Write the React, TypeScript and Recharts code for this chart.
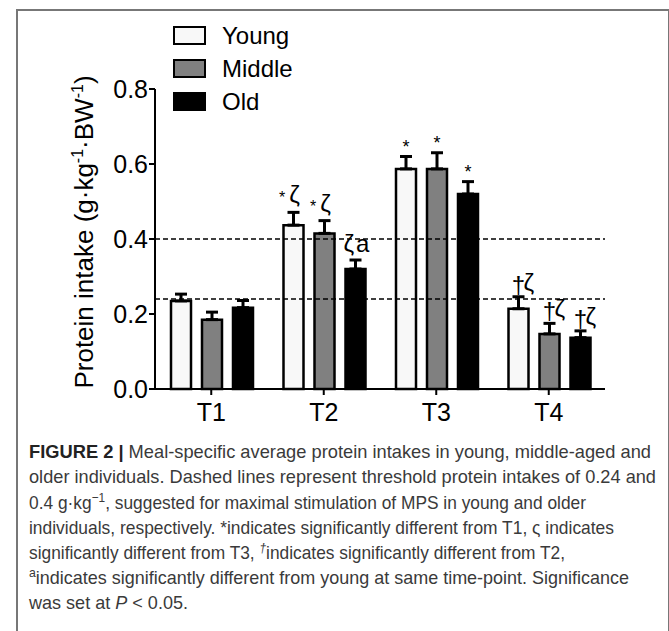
import React from 'react';
import { BarChart, Bar, XAxis, YAxis, ErrorBar, ReferenceLine, LabelList } from 'recharts';

const categories = ['T1', 'T2', 'T3', 'T4'];
const youngValues = [0.235, 0.437, 0.587, 0.214];
const youngErrors = [0.018, 0.034, 0.033, 0.032];
const middleValues = [0.185, 0.415, 0.587, 0.147];
const middleErrors = [0.02, 0.034, 0.043, 0.028];
const oldValues = [0.217, 0.32, 0.52, 0.137];
const oldErrors = [0.019, 0.024, 0.033, 0.018];
const youngMarks = ['', '*ζ', '*', '†ζ'];
const middleMarks = ['', '*ζ', '*', '†ζ'];
const oldMarks = ['', 'ζa', '*', '†ζ'];
const seriesNames = ['Young', 'Middle', 'Old'];
const seriesFills = ['#f8f8f8', '#808080', '#000'];
const yTicks = [0, 0.2, 0.4, 0.6, 0.8];
const thresholds = [0.24, 0.4];

const data = categories.map((name, i) => ({
  name,
  young: youngValues[i],
  youngErr: [0, youngErrors[i]],
  youngMark: youngMarks[i],
  middle: middleValues[i],
  middleErr: [0, middleErrors[i]],
  middleMark: middleMarks[i],
  old: oldValues[i],
  oldErr: [0, oldErrors[i]],
  oldMark: oldMarks[i],
}));

const font = "'Liberation Sans', Arial, Helvetica, sans-serif";

// draws the significance marks just above each error cap
const markLabel = (values: number[], errors: number[]) => (props: any) => {
  const { x, y, width, height, value, index } = props;
  if (!value) return null;
  const cx = Number(x) + Number(width) / 2;
  const capY = Number(y) - (errors[index] * Number(height)) / values[index];
  if (value === '*') {
    return (
      <text x={cx} y={capY - 4} textAnchor="middle" fontSize={18} fontFamily={font} fill="#000">
        *
      </text>
    );
  }
  if (value === '*ζ') {
    return (
      <text x={cx - 4} y={capY - 9} textAnchor="middle" fontFamily={font} fill="#000">
        <tspan fontSize={16}>*</tspan>
        <tspan dx={4} fontSize={24}>ζ</tspan>
      </text>
    );
  }
  if (value === 'ζa') {
    return (
      <text x={cx + 1} y={capY - 8} textAnchor="middle" fontSize={24} fontFamily={font} fill="#000">
        ζ<tspan dx={2}>a</tspan>
      </text>
    );
  }
  return (
    <g fontFamily={font} fill="#000" fontSize={24}>
      <text x={cx} y={capY - 4} textAnchor="middle">†</text>
      <text x={cx + 5} y={capY - 6} textAnchor="start">ζ</text>
    </g>
  );
};

const SeriesLegend = () => (
  <div style={{ position: 'absolute', left: 173, top: 19, fontFamily: font }}>
    {seriesNames.map((name, i) => (
      <div key={name} style={{ display: 'flex', alignItems: 'center', height: 33 }}>
        <span
          style={{
            display: 'inline-block',
            width: 29,
            height: 15,
            border: '2px solid #000',
            background: seriesFills[i],
          }}
        />
        <span style={{ marginLeft: 16, fontSize: 24, color: '#000' }}>{name}</span>
      </div>
    ))}
  </div>
);

const YLabel = () => (
  <text transform="translate(93,232) rotate(-90)" textAnchor="middle" fontSize={26} fontFamily={font} fill="#000">
    Protein intake (g·kg
    <tspan dy={-10} fontSize={16}>-1</tspan>
    <tspan dy={10}>·BW</tspan>
    <tspan dy={-10} fontSize={16}>-1</tspan>
    <tspan dy={10}>)</tspan>
  </text>
);

const Caption = () => {
  const c = { fontFamily: "'Liberation Sans Narrow', 'Liberation Sans', Arial, sans-serif", fontSize: 19, fill: '#3a3a3a' };
  const la = 'spacingAndGlyphs';
  return (
    <svg width={669} height={201} style={{ position: 'absolute', left: 0, top: 430 }}>
      <text x={29} y={28} {...c} textLength={622} lengthAdjust={la}>
        <tspan fontWeight="bold" fill="#222">FIGURE 2 |</tspan> Meal-specific average protein intakes in young, middle-aged and
      </text>
      <text x={29} y={53} {...c} textLength={627} lengthAdjust={la}>
        older individuals. Dashed lines represent threshold protein intakes of 0.24 and
      </text>
      <text x={29} y={79} {...c} textLength={557} lengthAdjust={la}>
        0.4 g·kg<tspan dy={-7} fontSize={13}>−1</tspan>
        <tspan dy={7}>, suggested for maximal stimulation of MPS in young and older</tspan>
      </text>
      <text x={29} y={104} {...c} textLength={585} lengthAdjust={la}>
        individuals, respectively. *indicates significantly different from T1, ς indicates
      </text>
      <text x={29} y={129} {...c} textLength={536} lengthAdjust={la}>
        significantly different from T3, <tspan dy={-7} fontSize={13} fontStyle="italic">†</tspan>
        <tspan dy={7}>indicates significantly different from T2,</tspan>
      </text>
      <text x={29} y={154} {...c} textLength={600} lengthAdjust={la}>
        <tspan dy={-7} fontSize={13}>a</tspan>
        <tspan dy={7}>indicates significantly different from young at same time-point. Significance</tspan>
      </text>
      <text x={29} y={179} {...c} textLength={159} lengthAdjust={la}>
        was set at <tspan fontStyle="italic">P</tspan> &lt; 0.05.
      </text>
    </svg>
  );
};

export default function App() {
  return (
    <div style={{ position: 'absolute', left: 0, top: 0, width: 669, height: 631, overflow: 'hidden', background: '#fff' }}>
      <div
        style={{
          position: 'absolute',
          left: 16,
          top: 9,
          width: 650,
          height: 640,
          borderLeft: '2px solid #777',
          borderTop: '2px solid #777',
          borderRight: '2px solid #777',
        }}
      />
      <div style={{ position: 'absolute', left: 0, top: 0 }}>
        <BarChart
          width={669}
          height={440}
          data={data}
          margin={{ top: 89, right: 64, left: 80, bottom: 21 }}
          barCategoryGap={16}
          barGap={11}
        >
          <XAxis
            dataKey="name"
            height={30}
            tick={{ fontSize: 25, fill: '#000', fontFamily: font }}
            tickSize={6}
            tickMargin={8}
            axisLine={{ stroke: '#000', strokeWidth: 2 }}
            tickLine={{ stroke: '#000', strokeWidth: 2 }}
          />
          <YAxis
            width={75}
            domain={[0, 0.8]}
            ticks={yTicks}
            tickFormatter={(v: number) => v.toFixed(1)}
            tick={{ fontSize: 25, fill: '#000', fontFamily: font }}
            tickSize={6}
            tickMargin={1}
            axisLine={{ stroke: '#000', strokeWidth: 2 }}
            tickLine={{ stroke: '#000', strokeWidth: 2 }}
            label={{ content: () => <YLabel /> }}
          />
          {thresholds.map((t) => (
            <ReferenceLine key={t} y={t} stroke="#000" strokeWidth={1.5} strokeDasharray="5 3" />
          ))}
          <Bar dataKey="young" name="Young" fill={seriesFills[0]} stroke="#000" strokeWidth={2.5} isAnimationActive={false}>
            <ErrorBar dataKey="youngErr" width={6} stroke="#000" strokeWidth={3} direction="y" />
            <LabelList dataKey="youngMark" content={markLabel(youngValues, youngErrors)} />
          </Bar>
          <Bar dataKey="middle" name="Middle" fill={seriesFills[1]} stroke="#000" strokeWidth={2.5} isAnimationActive={false}>
            <ErrorBar dataKey="middleErr" width={6} stroke="#000" strokeWidth={3} direction="y" />
            <LabelList dataKey="middleMark" content={markLabel(middleValues, middleErrors)} />
          </Bar>
          <Bar dataKey="old" name="Old" fill={seriesFills[2]} stroke="#000" strokeWidth={2.5} isAnimationActive={false}>
            <ErrorBar dataKey="oldErr" width={6} stroke="#000" strokeWidth={3} direction="y" />
            <LabelList dataKey="oldMark" content={markLabel(oldValues, oldErrors)} />
          </Bar>
        </BarChart>
      </div>
      <SeriesLegend />
      <Caption />
    </div>
  );
}
